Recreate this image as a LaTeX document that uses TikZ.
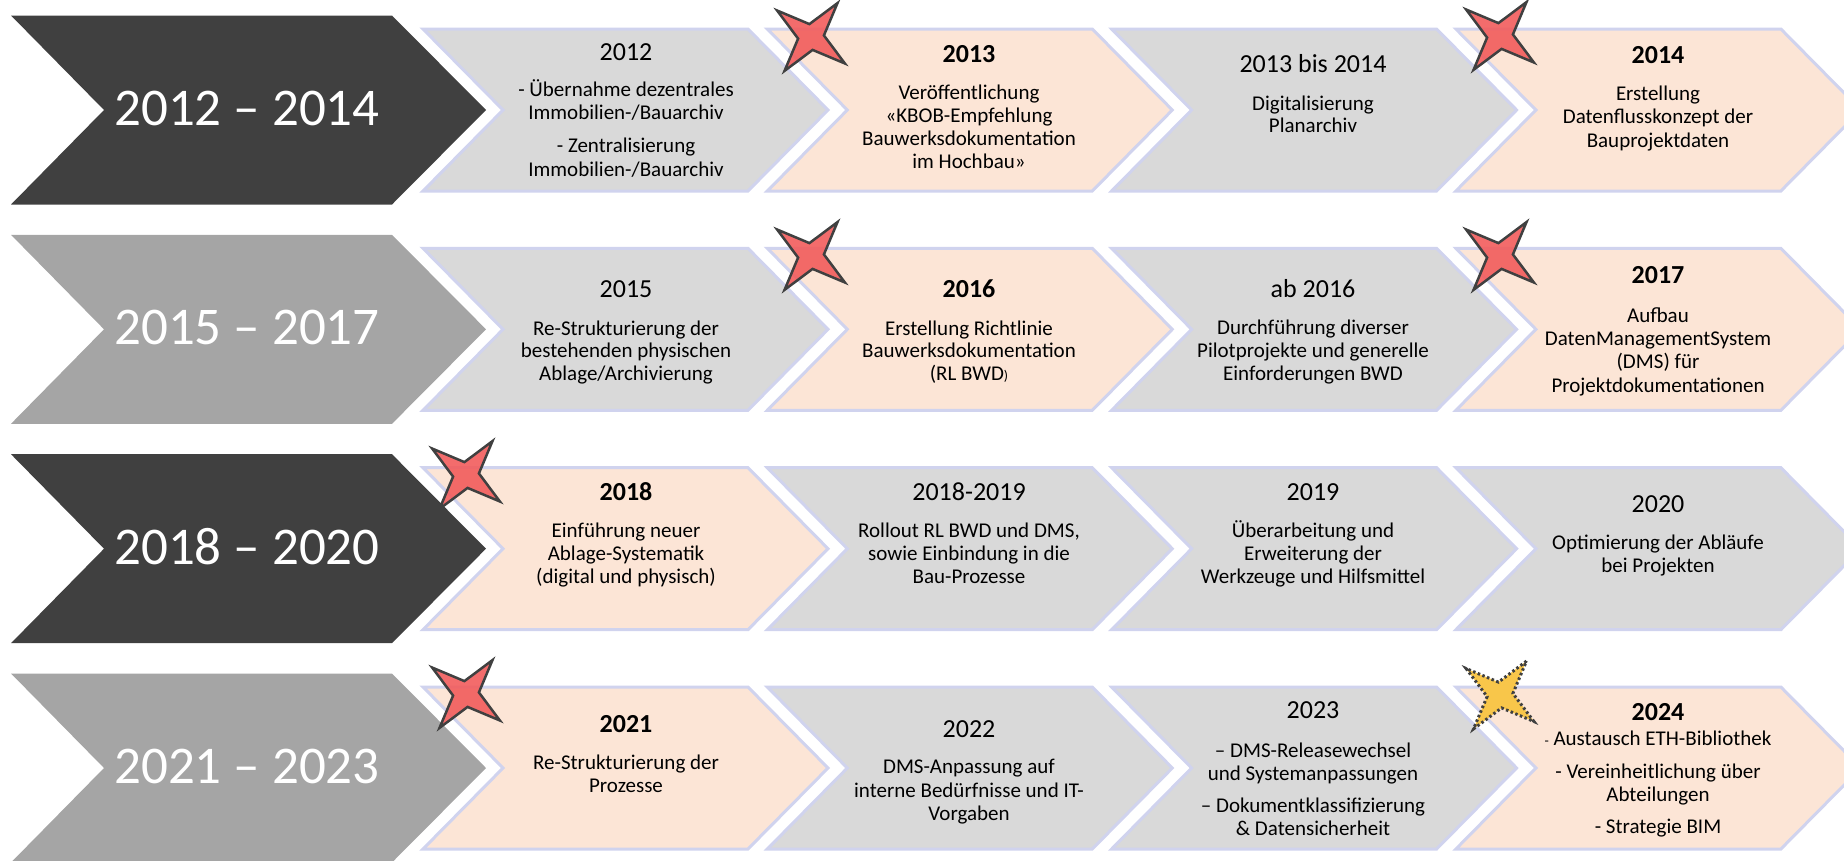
\documentclass[tikz,border=0pt]{standalone}
\usepackage{fontspec}
\setmainfont{Carlito}
\definecolor{darkchev}{HTML}{404040}
\definecolor{lightchev}{HTML}{A5A5A5}
\definecolor{greybox}{HTML}{D9D9D9}
\definecolor{peachbox}{HTML}{FCE5D6}
\definecolor{boxline}{HTML}{D0D3EE}
\definecolor{starred}{HTML}{F25C5C}
\definecolor{stargold}{HTML}{F8C64A}
\definecolor{staredge}{HTML}{404040}
\newcommand\bigchevron[2]{%
  \fill[#2] (11,#1-94.5) -- (392,#1-94.5) -- (486,#1) -- (392,#1+94.5) -- (11,#1+94.5) -- (104,#1) -- cycle;}
\newcommand\smallchevron[3]{%
  \filldraw[smallchev=#3] (#1,#2-81) -- (#1+325,#2-81) -- (#1+405,#2) -- (#1+325,#2+81) -- (#1,#2+81) -- (#1+80,#2) -- cycle;}
\newcommand\fourstar[3]{%
  \draw[#3, shift={(#1,#2)}] (52:43pt) -- (97:13pt) -- (142:43pt) -- (187:13pt) -- (232:43pt) -- (277:13pt) -- (322:43pt) -- (7:13pt) -- cycle;}
\begin{document}
\begin{tikzpicture}[x=1pt,y=-1pt,
  smallchev/.style={fill=#1, draw=boxline, line width=3pt, line join=miter},
  bigtxt/.style={text=white, font=\fontsize{53}{60}\selectfont, inner sep=0pt, anchor=base},
  yeartxt/.style={font=\fontsize{26}{30}\selectfont, inner sep=0pt, anchor=base},
  boldyear/.style={font=\fontsize{26}{30}\selectfont\bfseries, inner sep=0pt, anchor=base},
  bodytxt/.style={font=\fontsize{21}{24}\selectfont, inner sep=0pt, anchor=base},
  redstar/.style={fill=starred, fill opacity=0.9, draw=staredge, line width=2.5pt, line join=miter},
  goldstar/.style={fill=stargold, draw=staredge, line width=3pt, dash pattern=on 2.5pt off 2.5pt, line join=miter},
]
\useasboundingbox (0,0) rectangle (1844,860);
% big chevrons
\bigchevron{110}{darkchev}
\bigchevron{329.3}{lightchev}
\bigchevron{548.7}{darkchev}
\bigchevron{768}{lightchev}
% small chevrons
\smallchevron{423}{110}{greybox}
\smallchevron{767.3}{110}{peachbox}
\smallchevron{1111.6}{110}{greybox}
\smallchevron{1455.9}{110}{peachbox}
\smallchevron{423}{329.3}{greybox}
\smallchevron{767.3}{329.3}{peachbox}
\smallchevron{1111.6}{329.3}{greybox}
\smallchevron{1455.9}{329.3}{peachbox}
\smallchevron{423}{548.7}{peachbox}
\smallchevron{767.3}{548.7}{greybox}
\smallchevron{1111.6}{548.7}{greybox}
\smallchevron{1455.9}{548.7}{greybox}
\smallchevron{423}{768}{peachbox}
\smallchevron{767.3}{768}{greybox}
\smallchevron{1111.6}{768}{greybox}
\smallchevron{1455.9}{768}{peachbox}
% stars
\fourstar{811}{37}{redstar}
\fourstar{1500}{36}{redstar}
\fourstar{811}{256}{redstar}
\fourstar{1500}{256}{redstar}
\fourstar{466}{475}{redstar}
\fourstar{466}{694}{redstar}
\fourstar{1500}{695}{goldstar}
% big labels
\node[bigtxt] (lab1) at (247,125) {2012 – 2014};
\node[bigtxt] (lab2) at (247,344) {2015 – 2017};
\node[bigtxt] (lab3) at (247,564) {2018 – 2020};
\node[bigtxt] (lab4) at (247,783) {2021 – 2023};
% row 1
\node[yeartxt] (b11y) at (626,60) {2012};
\node[bodytxt] (b11a) at (626,96) {- Übernahme dezentrales};
\node[bodytxt] (b11b) at (626,119) {Immobilien-/Bauarchiv};
\node[bodytxt] (b11c) at (626,152) {- Zentralisierung};
\node[bodytxt] (b11d) at (626,176) {Immobilien-/Bauarchiv};
\node[boldyear] (b12y) at (969,62) {2013};
\node[bodytxt] (b12a) at (969,99) {Veröffentlichung};
\node[bodytxt] (b12b) at (969,122) {«KBOB-Empfehlung};
\node[bodytxt] (b12c) at (969,145) {Bauwerksdokumentation};
\node[bodytxt] (b12d) at (969,168) {im Hochbau»};
\node[yeartxt] (b13y) at (1313,72) {2013 bis 2014};
\node[bodytxt] (b13a) at (1313,110) {Digitalisierung};
\node[bodytxt] (b13b) at (1313,132) {Planarchiv};
\node[boldyear] (b14y) at (1658,63) {2014};
\node[bodytxt] (b14a) at (1658,100) {Erstellung};
\node[bodytxt] (b14b) at (1658,123) {Datenflusskonzept der};
\node[bodytxt] (b14c) at (1658,147) {Bauprojektdaten};
% row 2
\node[yeartxt] (b21y) at (626,297) {2015};
\node[bodytxt] (b21a) at (626,335) {Re-Strukturierung der};
\node[bodytxt] (b21b) at (626,357) {bestehenden physischen};
\node[bodytxt] (b21c) at (626,380) {Ablage/Archivierung};
\node[boldyear] (b22y) at (969,297) {2016};
\node[bodytxt] (b22a) at (969,335) {Erstellung Richtlinie};
\node[bodytxt] (b22b) at (969,357) {Bauwerksdokumentation};
\node[bodytxt] (b22c) at (969,380) {(RL BWD{\fontsize{14}{16}\selectfont )}};
\node[yeartxt] (b23y) at (1313,297) {ab 2016};
\node[bodytxt] (b23a) at (1313,334) {Durchführung diverser};
\node[bodytxt] (b23b) at (1313,357) {Pilotprojekte und generelle};
\node[bodytxt] (b23c) at (1313,380) {Einforderungen BWD};
\node[boldyear] (b24y) at (1658,283) {2017};
\node[bodytxt] (b24a) at (1658,322) {Aufbau};
\node[bodytxt] (b24b) at (1658,345) {DatenManagementSystem};
\node[bodytxt] (b24c) at (1658,368) {(DMS) für};
\node[bodytxt] (b24d) at (1658,392) {Projektdokumentationen};
% row 3
\node[boldyear] (b31y) at (626,500) {2018};
\node[bodytxt] (b31a) at (626,537) {Einführung neuer};
\node[bodytxt] (b31b) at (626,560) {Ablage-Systematik};
\node[bodytxt] (b31c) at (626,583) {(digital und physisch)};
\node[yeartxt] (b32y) at (969,500) {2018-2019};
\node[bodytxt] (b32a) at (969,537) {Rollout RL BWD und DMS,};
\node[bodytxt] (b32b) at (969,560) {sowie Einbindung in die};
\node[bodytxt] (b32c) at (969,583) {Bau-Prozesse};
\node[yeartxt] (b33y) at (1313,500) {2019};
\node[bodytxt] (b33a) at (1313,537) {Überarbeitung und};
\node[bodytxt] (b33b) at (1313,560) {Erweiterung der};
\node[bodytxt] (b33c) at (1313,583) {Werkzeuge und Hilfsmittel};
\node[yeartxt] (b34y) at (1658,512) {2020};
\node[bodytxt] (b34a) at (1658,549) {Optimierung der Abläufe};
\node[bodytxt] (b34b) at (1658,572) {bei Projekten};
% row 4
\node[boldyear] (b41y) at (626,732) {2021};
\node[bodytxt] (b41a) at (626,769) {Re-Strukturierung der};
\node[bodytxt] (b41b) at (626,792) {Prozesse};
\node[yeartxt] (b42y) at (969,737) {2022};
\node[bodytxt] (b42a) at (969,773) {DMS-Anpassung auf};
\node[bodytxt] (b42b) at (969,797) {interne Bedürfnisse und IT-};
\node[bodytxt] (b42c) at (969,820) {Vorgaben};
\node[yeartxt] (b43y) at (1313,718) {2023};
\node[bodytxt] (b43a) at (1313,757) {– DMS-Releasewechsel};
\node[bodytxt] (b43b) at (1313,780) {und Systemanpassungen};
\node[bodytxt] (b43c) at (1313,812) {– Dokumentklassifizierung};
\node[bodytxt] (b43d) at (1313,835) {\& Datensicherheit};
\node[boldyear] (b44y) at (1658,720) {2024};
\node[bodytxt] (b44a) at (1658,745) {{\fontsize{14}{16}\selectfont -} Austausch ETH-Bibliothek};
\node[bodytxt] (b44b) at (1658,778) {- Vereinheitlichung über};
\node[bodytxt] (b44c) at (1658,801) {Abteilungen};
\node[bodytxt] (b44d) at (1658,833) {- Strategie BIM};
\end{tikzpicture}
\end{document}
